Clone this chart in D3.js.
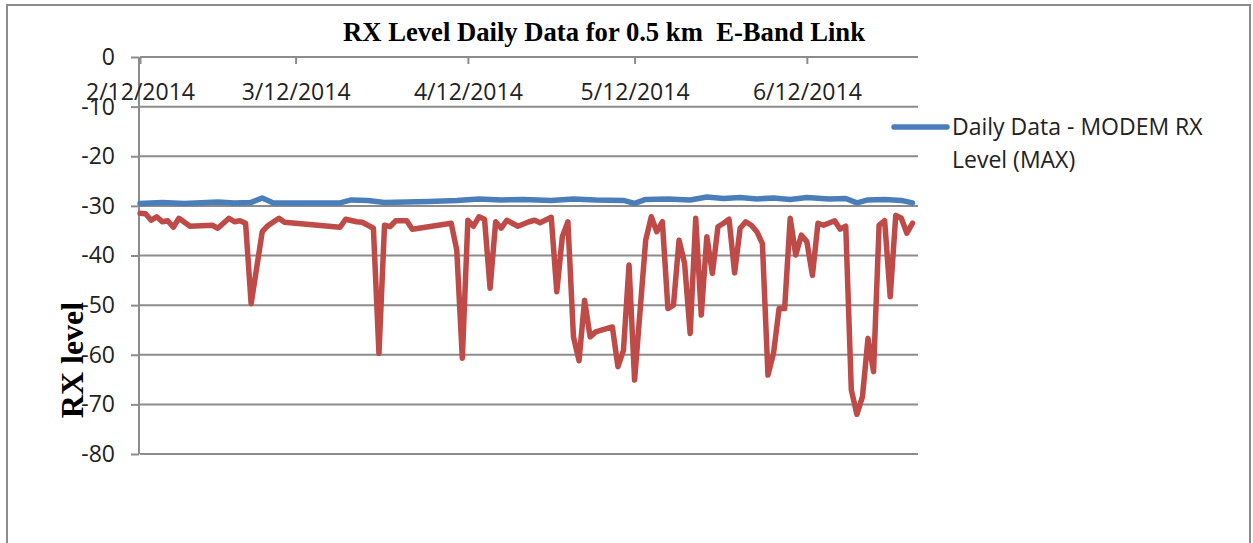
<!DOCTYPE html>
<html>
<head>
<meta charset="utf-8">
<script src="https://cdn.jsdelivr.net/npm/d3@7"></script>
<style>
  body { margin: 0; background: #fff; }
  svg { display: block; }
  .tick text { font-family: "Open Sans", sans-serif; font-size: 23px; fill: #222; }
</style>
</head>
<body>
<div class="chart"></div>
<script>
// series data
var maxDates = ["2/12","2/16","2/20","2/26","3/1","3/4","3/6","3/8","3/20","3/22","3/25","3/28",
  "4/1","4/5","4/10","4/14","4/18","4/22","4/27","5/1","5/5","5/10","5/12","5/14","5/18","5/22",
  "5/25","5/28","5/31","6/3","6/6","6/9","6/12","6/16","6/19","6/21","6/23","6/26","6/29","7/1"];
var maxValues = [-29.5,-29.3,-29.5,-29.2,-29.4,-29.3,-28.4,-29.4,-29.4,-28.8,-28.9,-29.3,
  -29.2,-29.1,-28.9,-28.6,-28.8,-28.7,-28.9,-28.6,-28.8,-28.9,-29.5,-28.7,-28.6,-28.8,
  -28.2,-28.5,-28.3,-28.6,-28.4,-28.7,-28.3,-28.6,-28.5,-29.4,-28.8,-28.7,-28.9,-29.4];

var minDates = ["2/12","2/13","2/14","2/15","2/16","2/17","2/18","2/19","2/21","2/25","2/26","2/28",
  "3/1","3/2","3/3","3/4","3/6","3/7","3/9","3/10","3/20","3/21","3/23","3/24","3/26","3/27","3/28",
  "3/29","3/30","4/1","4/2","4/9","4/10","4/11","4/12","4/13","4/14","4/15","4/16","4/17","4/18",
  "4/19","4/20","4/21","4/23","4/24","4/25","4/27","4/28","4/29","4/30","5/1","5/2","5/3","5/4",
  "5/5","5/8","5/9","5/10","5/11","5/12","5/14","5/15","5/16","5/17","5/18","5/19","5/20","5/21",
  "5/22","5/23","5/24","5/25","5/26","5/27","5/28","5/29","5/30","5/31","6/1","6/2","6/3","6/4",
  "6/5","6/6","6/7","6/8","6/9","6/10","6/11","6/12","6/13","6/14","6/15","6/17","6/18","6/19",
  "6/20","6/21","6/22","6/23","6/24","6/25","6/26","6/27","6/28","6/29","6/30","7/1"];
var minValues = [-31.5,-31.6,-32.9,-32.2,-33.2,-33.0,-34.3,-32.5,-34.1,-33.9,-34.5,-32.5,
  -33.2,-33.0,-33.5,-49.7,-35.2,-34.0,-32.5,-33.3,-34.3,-32.7,-33.2,-33.3,-34.5,-59.7,-33.9,
  -34.2,-33.0,-33.0,-34.7,-33.5,-38.9,-60.7,-32.9,-34.1,-32.2,-32.7,-46.6,-33.2,-34.5,
  -32.9,-33.5,-34.1,-33.2,-32.9,-33.4,-32.3,-47.3,-36.2,-33.2,-56.4,-61.2,-49.0,-56.4,
  -55.4,-54.4,-62.4,-59.1,-41.9,-65.1,-36.9,-32.2,-35.2,-33.2,-50.7,-50.0,-36.9,-41.6,
  -55.7,-32.5,-52.0,-36.2,-43.6,-34.2,-33.5,-32.7,-43.5,-34.5,-33.2,-33.9,-35.2,-37.6,
  -64.1,-59.7,-50.7,-50.7,-32.5,-39.9,-35.9,-37.2,-44.0,-33.5,-33.9,-33.0,-34.7,-34.1,
  -67.1,-72.0,-68.5,-56.7,-63.4,-33.9,-33.0,-48.3,-31.9,-32.5,-35.5,-33.5];

var yTicks = [0, -10, -20, -30, -40, -50, -60, -70, -80];
var xTicks = ["2/12","3/12","4/12","5/12","6/12"];

var chartTitle = "RX Level Daily Data for 0.5 km  E-Band Link";
var yTitle = "RX level";
var legendLines = ["Daily Data - MODEM RX", "Level (MAX)"];

var parseDay = function(s) { return d3.timeParse("%m/%d/%Y")(s + "/2014"); };

function drawChart() {
  var width = 1253, height = 543;
  var plotLeft = 140, plotRight = 918, plotTop = 57, plotBottom = 454;

  var svg = d3.select(".chart").append("svg")
      .attr("width", width)
      .attr("height", height);

  // outer frame
  svg.append("rect")
      .attr("x", 7).attr("y", 5)
      .attr("width", 1243).attr("height", 600)
      .attr("fill", "none")
      .attr("stroke", "#8c8c8c")
      .attr("stroke-width", 2);

  var x = d3.scaleTime()
      .domain([parseDay("2/12"), parseDay("7/2")])
      .range([plotLeft, plotRight]);
  var y = d3.scaleLinear()
      .domain([-80, 0])
      .range([plotBottom, plotTop]);

  // horizontal gridlines
  svg.append("g").selectAll("line")
      .data(yTicks)
      .enter().append("line")
        .attr("x1", plotLeft).attr("x2", plotRight)
        .attr("y1", function(d) { return y(d); })
        .attr("y2", function(d) { return y(d); })
        .attr("stroke", "#8c8c8c")
        .attr("stroke-width", 2);

  // y axis (plain hyphen for the minus sign, like the original)
  var yAxis = svg.append("g")
      .attr("transform", "translate(" + (plotLeft - 1) + ",0)")
      .call(d3.axisLeft(y).tickValues(yTicks).tickSize(8).tickPadding(16)
        .tickFormat(function(d) { return String(d); }));
  yAxis.selectAll("line, path").attr("stroke", "#8c8c8c").attr("stroke-width", 2);
  yAxis.select(".domain").attr("d", "M0," + plotTop + "V" + plotBottom);

  // x axis sits on the 0 line at the top
  var xAxis = svg.append("g")
      .attr("transform", "translate(0," + plotTop + ")")
      .call(d3.axisBottom(x)
        .tickValues(xTicks.map(parseDay))
        .tickSize(7)
        .tickFormat(d3.timeFormat("%-m/%-d/%Y")));
  xAxis.selectAll("line, path").attr("stroke", "#8c8c8c").attr("stroke-width", 2);
  xAxis.select(".domain").attr("d", "M" + plotLeft + ",0H" + plotRight);
  xAxis.selectAll("text").attr("y", 43).attr("dy", null);

  // series lines
  var line = d3.line()
      .x(function(d) { return x(d.date); })
      .y(function(d) { return y(d.value); });

  var maxData = maxDates.map(function(d, i) { return {date: parseDay(d), value: maxValues[i]}; });
  var minData = minDates.map(function(d, i) { return {date: parseDay(d), value: minValues[i]}; });

  svg.append("path")
      .datum(maxData)
      .attr("d", line)
      .attr("fill", "none")
      .attr("stroke", "#4a7ebb")
      .attr("stroke-width", 5.5)
      .attr("stroke-linejoin", "round")
      .attr("stroke-linecap", "round");

  svg.append("path")
      .datum(minData)
      .attr("d", line)
      .attr("fill", "none")
      .attr("stroke", "#be4b48")
      .attr("stroke-width", 5.5)
      .attr("stroke-linejoin", "round")
      .attr("stroke-linecap", "round");

  // title
  svg.append("text")
      .attr("x", 604).attr("y", 41)
      .attr("text-anchor", "middle")
      .attr("textLength", 522)
      .attr("lengthAdjust", "spacingAndGlyphs")
      .attr("xml:space", "preserve")
      .style("white-space", "pre")
      .style("font-family", "'Liberation Serif', serif")
      .style("font-weight", "bold")
      .style("font-size", "27px")
      .text(chartTitle);

  // y axis title
  svg.append("text")
      .attr("transform", "translate(83,360) rotate(-90)")
      .attr("text-anchor", "middle")
      .style("font-family", "'Liberation Serif', serif")
      .style("font-weight", "bold")
      .style("font-size", "32px")
      .text(yTitle);

  // legend
  svg.append("line")
      .attr("x1", 894).attr("x2", 947)
      .attr("y1", 127).attr("y2", 127)
      .attr("stroke", "#4a7ebb")
      .attr("stroke-width", 5.5)
      .attr("stroke-linecap", "round");
  svg.append("g").selectAll("text")
      .data(legendLines)
      .enter().append("text")
        .attr("x", 952)
        .attr("y", function(d, i) { return 135 + i * 33; })
        .style("font-family", "'Open Sans', sans-serif")
        .style("font-size", "23px")
        .style("fill", "#222")
        .text(function(d) { return d; });
}

drawChart();
</script>
</body>
</html>
